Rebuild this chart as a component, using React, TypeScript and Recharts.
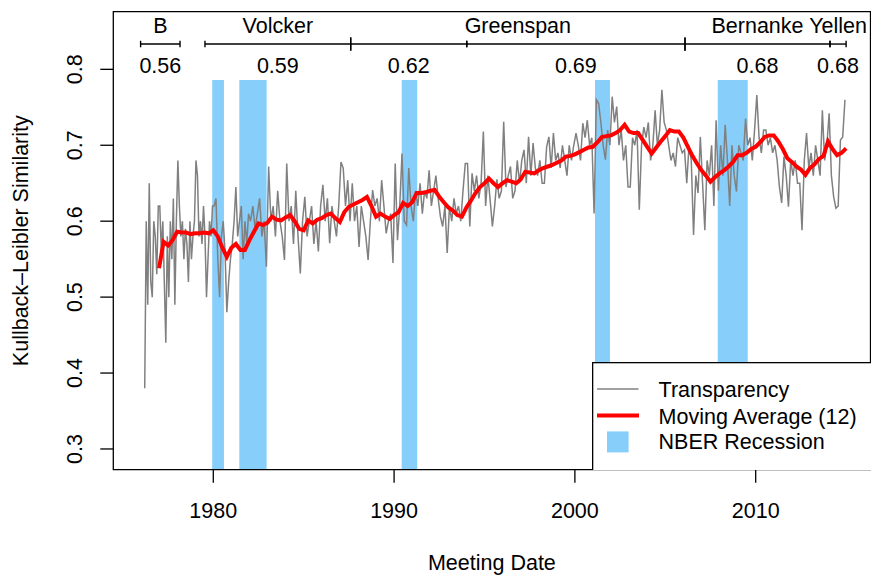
import {
  ComposedChart,
  Legend,
  Line,
  ReferenceArea,
  ReferenceDot,
  ReferenceLine,
  XAxis,
  YAxis,
} from 'recharts';

const FONT = '"Liberation Sans", Arial, Helvetica, sans-serif';
const FONT_SIZE = 21.5;
const GRAY = '#808080';
const RED = '#ff0000';
const SKY = '#87cefa';

// KL similarity per FOMC meeting, one row per calendar year (null = no meeting yet)
const FIRST_YEAR = 1976;

const transparency1970s: (number | null)[][] = [
  [null, null, 0.38, 0.6, 0.49, 0.65, 0.52, 0.5, 0.6, 0.58, 0.53, 0.62],
  [0.62, 0.56, 0.6, 0.52, 0.44, 0.58, 0.5, 0.6, 0.55, 0.63, 0.49, 0.6],
  [0.68, 0.62, 0.58, 0.6, 0.55, 0.59, 0.57, 0.52, 0.6, 0.55, 0.58, 0.6],
  [0.68, 0.66, 0.58, 0.6, 0.57, 0.62, 0.58, 0.5, 0.55, 0.6, 0.58, 0.62],
];

const transparency1980s: number[][] = [
  [0.62, 0.63, 0.55, 0.5, 0.58, 0.6, 0.56, 0.48, 0.52, 0.55],
  [0.57, 0.6, 0.645, 0.58, 0.6, 0.62, 0.55, 0.6, 0.57, 0.61],
  [0.6, 0.62, 0.59, 0.61, 0.63, 0.58, 0.6, 0.54],
  [0.672, 0.6, 0.62, 0.58, 0.64, 0.6, 0.58, 0.549],
  [0.676, 0.6, 0.62, 0.57, 0.64, 0.58, 0.531, 0.6],
  [0.632, 0.58, 0.6, 0.62, 0.57, 0.6, 0.56, 0.62],
  [0.648, 0.6, 0.63, 0.571, 0.62, 0.6, 0.58, 0.62],
  [0.678, 0.67, 0.62, 0.654, 0.6, 0.65, 0.6, 0.62],
  [0.566, 0.62, 0.6, 0.58, 0.549, 0.6, 0.641, 0.62],
  [0.63, 0.6, 0.654, 0.62, 0.584, 0.6, 0.61, 0.545],
];

const transparency1990s: number[][] = [
  [0.676, 0.575, 0.62, 0.689, 0.6, 0.595, 0.67, 0.62],
  [0.6, 0.64, 0.62, 0.65, 0.61, 0.64, 0.63, 0.667],
  [0.62, 0.64, 0.66, 0.63, 0.606, 0.593, 0.62, 0.558],
  [0.62, 0.6, 0.63, 0.61, 0.62, 0.6, 0.64, 0.676],
  [0.676, 0.593, 0.663, 0.64, 0.66, 0.63, 0.65, 0.718],
  [0.62, 0.66, 0.628, 0.593, 0.62, 0.655, 0.63, 0.64],
  [0.731, 0.645, 0.66, 0.672, 0.63, 0.64, 0.68, 0.65],
  [0.68, 0.694, 0.65, 0.711, 0.66, 0.703, 0.67, 0.66],
  [0.68, 0.65, 0.65, 0.698, 0.711, 0.67, 0.716, 0.68],
  [0.69, 0.67, 0.7, 0.68, 0.66, 0.7, 0.68, 0.7],
];

const transparency2000s: number[][] = [
  [0.716, 0.7, 0.68, 0.729, 0.71, 0.733, 0.7, 0.71],
  [0.61, 0.76, 0.755, 0.73, 0.7, 0.681, 0.72, 0.7],
  [0.764, 0.73, 0.751, 0.7, 0.72, 0.68, 0.7, 0.645],
  [0.645, 0.71, 0.7, 0.72, 0.615, 0.7, 0.724, 0.71],
  [0.73, 0.68, 0.7, 0.746, 0.7, 0.72, 0.773, 0.73],
  [0.72, 0.7, 0.68, 0.69, 0.672, 0.71, 0.7, 0.69],
  [0.694, 0.65, 0.7, 0.68, 0.582, 0.66, 0.637, 0.711],
  [0.65, 0.588, 0.68, 0.66, 0.7, 0.62, 0.733, 0.64],
  [0.7, 0.66, 0.727, 0.68, 0.62, 0.7, 0.66, 0.639],
  [0.7, 0.69, 0.68, 0.735, 0.7, 0.71, 0.68, 0.72],
];

const transparency2010s: number[][] = [
  [0.766, 0.71, 0.69, 0.72, 0.72, 0.7, 0.71, 0.69],
  [0.7, 0.68, 0.645, 0.624, 0.685, 0.66, 0.619, 0.68],
  [0.66, 0.68, 0.65, 0.65, 0.588, 0.68, 0.716, 0.67],
  [0.69, 0.66, 0.7, 0.68, 0.66, 0.746, 0.68, 0.7],
  [0.742, 0.66, 0.632, 0.617, 0.62, 0.707, 0.711, 0.76],
];

// 12-meeting moving average (from 1977)
const MA_FIRST_YEAR = 1977;
const movingAverageRows: number[][] = [
  [0.538, 0.573, 0.568, 0.575],
  [0.586, 0.585, 0.585, 0.583],
  [0.584, 0.584, 0.585, 0.584],
  [0.588, 0.58, 0.565, 0.553],
  [0.565, 0.57, 0.562, 0.562],
  [0.575, 0.586, 0.597, 0.595],
  [0.598, 0.606, 0.602, 0.601],
  [0.605, 0.608, 0.6, 0.59],
  [0.588, 0.601, 0.597, 0.602],
  [0.604, 0.608, 0.61, 0.604],
  [0.599, 0.612, 0.619, 0.622],
  [0.625, 0.628, 0.632, 0.62],
  [0.606, 0.61, 0.606, 0.603],
  [0.608, 0.612, 0.624, 0.62],
  [0.625, 0.637, 0.637, 0.638],
  [0.64, 0.641, 0.632, 0.625],
  [0.618, 0.614, 0.608, 0.606],
  [0.618, 0.627, 0.637, 0.645],
  [0.65, 0.656, 0.65, 0.645],
  [0.65, 0.654, 0.652, 0.65],
  [0.655, 0.665, 0.664, 0.663],
  [0.667, 0.67, 0.672, 0.674],
  [0.677, 0.68, 0.685, 0.686],
  [0.688, 0.691, 0.694, 0.697],
  [0.698, 0.704, 0.711, 0.712],
  [0.713, 0.716, 0.72, 0.727],
  [0.718, 0.716, 0.716, 0.707],
  [0.698, 0.689, 0.697, 0.705],
  [0.712, 0.72, 0.718, 0.718],
  [0.71, 0.698, 0.686, 0.676],
  [0.667, 0.66, 0.652, 0.658],
  [0.663, 0.667, 0.672, 0.678],
  [0.687, 0.687, 0.69, 0.695],
  [0.698, 0.704, 0.711, 0.713],
  [0.713, 0.705, 0.695, 0.683],
  [0.678, 0.672, 0.668, 0.661],
  [0.67, 0.675, 0.682, 0.686],
  [0.705, 0.695, 0.687, 0.69],
  [0.696],
];

// NBER recessions (decimal years)
const recessions: [number, number][] = [
  [1979.94, 1980.59],
  [1981.44, 1982.95],
  [1990.42, 1991.28],
  [2001.11, 2001.94],
  [2007.9, 2009.56],
];

const chairs = [
  { name: 'B', start: 1975.98, end: 1978.16 },
  { name: 'Volcker', start: 1979.54, end: 1987.6 },
  { name: 'Greenspan', start: 1987.6, end: 2006.09 },
  { name: 'Bernanke', start: 2006.09, end: 2014.11 },
  { name: 'Yellen', start: 2014.11, end: 2015.0 },
];

const periodMeans = [
  { start: 1975.98, end: 1978.16, mean: '0.56' },
  { start: 1979.54, end: 1987.6, mean: '0.59' },
  { start: 1987.6, end: 1994.02, mean: '0.62' },
  { start: 1994.02, end: 2006.09, mean: '0.69' },
  { start: 2006.09, end: 2014.11, mean: '0.68' },
  { start: 2014.11, end: 2015.0, mean: '0.68' },
];

const YEAR_TICKS = [1980, 1990, 2000, 2010];
const VALUE_TICKS = [0.3, 0.4, 0.5, 0.6, 0.7, 0.8];

const X_MIN = 1974.47;
const X_MAX = 2016.35;
const Y_MIN = 0.2727;
const Y_MAX = 0.8759;
const BAND_TOP = 0.786;
const BRACKET_Y = 0.8333;
const CHAIR_Y = 0.8577;
const MEAN_Y = 0.8046;

const meetingRows = [
  ...transparency1970s,
  ...transparency1980s,
  ...transparency1990s,
  ...transparency2000s,
  ...transparency2010s,
];

const meetings = meetingRows.flatMap((row, k) =>
  row
    .map((value, i) => ({ date: FIRST_YEAR + k + (i + 0.5) / row.length, value }))
    .filter((d) => d.value !== null),
);

const movingAverage = movingAverageRows.flatMap((row, k) =>
  row.map((value, q) => ({ date: MA_FIRST_YEAR + k + q / 4, value })),
);

const textStyle = { fontFamily: FONT, fontSize: FONT_SIZE, fill: '#000' };

function ValueTick(props: any) {
  const { x, y, payload } = props;
  return (
    <text
      x={x}
      y={y}
      transform={`rotate(-90, ${x}, ${y})`}
      textAnchor="middle"
      {...textStyle}
    >
      {payload.value.toFixed(1)}
    </text>
  );
}

function LegendBox() {
  return (
    <svg width={280} height={108} style={{ display: 'block' }}>
      <rect x={0.65} y={0.65} width={290} height={120} fill="#fff" stroke="#000" strokeWidth={1.3} />
      <line x1={5} x2={46.5} y1={27} y2={27} stroke={GRAY} strokeWidth={1.5} />
      <text x={66.6} y={34.7} {...textStyle}>Transparency</text>
      <line x1={5} x2={47} y1={53.4} y2={53.4} stroke={RED} strokeWidth={4} />
      <text x={66.6} y={62} {...textStyle}>Moving Average (12)</text>
      <rect x={15} y={69.4} width={21.6} height={21} fill={SKY} />
      <text x={66.6} y={87} {...textStyle}>NBER Recession</text>
    </svg>
  );
}

export default function App() {
  return (
    <div style={{ position: 'absolute', left: 0, top: 0, width: 871, height: 575, background: '#fff' }}>
      <ComposedChart width={871} height={575} margin={{ top: 11.7, right: 0.5, bottom: 0, left: 0 }}>
        <XAxis
          dataKey="date"
          type="number"
          domain={[X_MIN, X_MAX]}
          allowDataOverflow
          ticks={YEAR_TICKS}
          interval={0}
          height={105.3}
          axisLine={false}
          tickLine={{ stroke: '#000', strokeWidth: 1.3 }}
          tickSize={13}
          tickMargin={20}
          tick={{ ...textStyle }}
          label={{
            content: (p: any) => (
              <text
                x={p.viewBox.x + p.viewBox.width / 2}
                y={p.viewBox.y + 100.3}
                textAnchor="middle"
                {...textStyle}
              >
                Meeting Date
              </text>
            ),
          }}
        />
        <YAxis
          type="number"
          domain={[Y_MIN, Y_MAX]}
          allowDataOverflow
          ticks={VALUE_TICKS}
          interval={0}
          width={113.3}
          axisLine={false}
          tickLine={{ stroke: '#000', strokeWidth: 1.3 }}
          tickSize={13}
          tickMargin={18.6}
          tick={<ValueTick />}
          label={{
            content: (p: any) => {
              const cy = p.viewBox.y + p.viewBox.height / 2;
              return (
                <text
                  x={27.7}
                  y={cy}
                  transform={`rotate(-90, 27.7, ${cy})`}
                  textAnchor="middle"
                  {...textStyle}
                >
                  Kullback–Leibler Similarity
                </text>
              );
            },
          }}
        />
        {recessions.map(([a, b]) => (
          <ReferenceArea
            key={a}
            x1={a}
            x2={b}
            y1={Y_MIN}
            y2={BAND_TOP}
            fill={SKY}
            fillOpacity={1}
            stroke="none"
          />
        ))}
        <Line
          data={meetings}
          dataKey="value"
          type="linear"
          stroke={GRAY}
          strokeWidth={1.5}
          dot={false}
          activeDot={false}
          isAnimationActive={false}
        />
        <Line
          data={movingAverage}
          dataKey="value"
          type="linear"
          stroke={RED}
          strokeWidth={4}
          dot={false}
          activeDot={false}
          isAnimationActive={false}
        />
        {chairs.map((c) => (
          <ReferenceLine
            key={`seg-${c.name}`}
            segment={[
              { x: c.start, y: BRACKET_Y },
              { x: c.end, y: BRACKET_Y },
            ]}
            stroke="#000"
            strokeWidth={1.4}
          />
        ))}
        {periodMeans.flatMap((p) => [p.start, p.end]).map((x, i) => {
          const long = x === 1987.6 || x === 2006.09;
          const h = long ? 0.0087 : 0.0043;
          return (
            <ReferenceLine
              key={`tick-${i}`}
              segment={[
                { x, y: BRACKET_Y - h },
                { x, y: BRACKET_Y + h },
              ]}
              stroke="#000"
              strokeWidth={1.4}
            />
          );
        })}
        {chairs.map((c) => (
          <ReferenceDot
            key={`lab-${c.name}`}
            x={(c.start + c.end) / 2}
            y={CHAIR_Y}
            r={0}
            stroke="none"
            fill="none"
            label={{ value: c.name, position: 'center', ...textStyle }}
          />
        ))}
        {periodMeans.map((p) => (
          <ReferenceDot
            key={`mean-${p.start}`}
            x={(p.start + p.end) / 2}
            y={MEAN_Y}
            r={0}
            stroke="none"
            fill="none"
            label={{ value: p.mean, position: 'center', ...textStyle }}
          />
        ))}
        <ReferenceArea
          x1={X_MIN}
          x2={X_MAX}
          y1={Y_MIN}
          y2={Y_MAX}
          fill="none"
          stroke="#000"
          strokeWidth={1.3}
          ifOverflow="visible"
        />
        <Legend
          layout="vertical"
          align="center"
          verticalAlign="middle"
          wrapperStyle={{ left: 591.7, top: 362.3, width: 280, height: 108, overflow: 'hidden' }}
          content={() => <LegendBox />}
        />
      </ComposedChart>
    </div>
  );
}
